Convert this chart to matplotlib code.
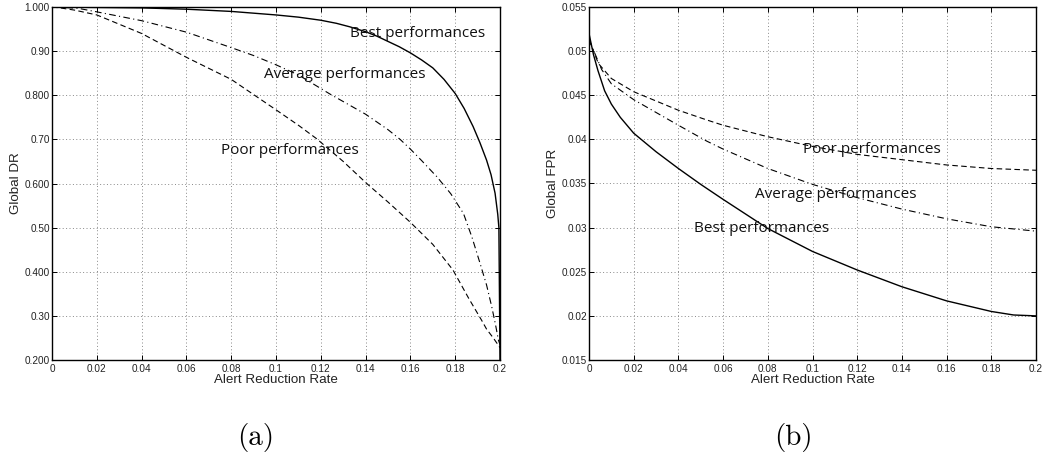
import matplotlib
matplotlib.use("Agg")
import matplotlib.pyplot as plt

# ---- data ----
# (a) Global DR vs alert reduction rate
dr_best_x = [0, 0.02, 0.04, 0.06, 0.08, 0.10, 0.11, 0.12, 0.127, 0.133, 0.14, 0.145, 0.15, 0.155, 0.16, 0.165,
             0.170, 0.175, 0.180, 0.184, 0.188, 0.191, 0.194, 0.196, 0.1978, 0.199, 0.1995, 0.2]
dr_best_y = [1.0, 0.999, 0.998, 0.995, 0.990, 0.982, 0.977, 0.970, 0.963, 0.955, 0.944, 0.934, 0.922, 0.910,
             0.896, 0.880, 0.862, 0.836, 0.804, 0.770, 0.729, 0.693, 0.653, 0.620, 0.578, 0.53, 0.50, 0.2]
dr_avg_x = [0, 0.005, 0.0117, 0.02, 0.04, 0.06, 0.08, 0.09, 0.1, 0.11, 0.124, 0.14, 0.15, 0.1554, 0.16, 0.165,
            0.17, 0.1718, 0.178, 0.1837, 0.1875, 0.1911, 0.1940, 0.1963, 0.198, 0.1993, 0.2]
dr_avg_y = [1.0, 0.999, 0.997, 0.989, 0.969, 0.943, 0.908, 0.890, 0.869, 0.846, 0.803, 0.757, 0.722, 0.700,
            0.678, 0.652, 0.625, 0.6155, 0.577, 0.532, 0.478, 0.419, 0.370, 0.321, 0.28, 0.245, 0.235]
dr_poor_x = [0, 0.0036, 0.01, 0.02, 0.04, 0.06, 0.08, 0.1, 0.11, 0.118, 0.13, 0.1405, 0.15, 0.16,
             0.17, 0.179, 0.186, 0.1918, 0.194, 0.197, 0.2]
dr_poor_y = [1.0, 0.998, 0.993, 0.982, 0.940, 0.886, 0.836, 0.767, 0.732, 0.702, 0.650, 0.600, 0.558, 0.512,
             0.462, 0.404, 0.340, 0.290, 0.270, 0.250, 0.228]

# (b) Global FPR vs alert reduction rate
fpr_best_x = [0, 0.002, 0.004, 0.007, 0.01, 0.014, 0.02, 0.03, 0.04, 0.05, 0.06, 0.08, 0.1, 0.12,
              0.14, 0.16, 0.18, 0.19, 0.2]
fpr_best_y = [0.0520, 0.0496, 0.0478, 0.0455, 0.0440, 0.0425, 0.0407, 0.0386, 0.0367, 0.0349, 0.0332,
              0.0299, 0.0273, 0.0252, 0.0233, 0.0217, 0.0205, 0.0201, 0.0200]
fpr_avg_x = [0, 0.0057, 0.01, 0.02, 0.04, 0.0527, 0.06, 0.08, 0.1, 0.12, 0.14, 0.16, 0.18, 0.2]
fpr_avg_y = [0.0513, 0.0479, 0.0463, 0.0445, 0.0416, 0.0398, 0.0389, 0.0367, 0.0349, 0.0334, 0.0321,
             0.0310, 0.0301, 0.0296]
fpr_poor_x = [0, 0.0042, 0.01, 0.02, 0.04, 0.0527, 0.06, 0.08, 0.1, 0.12, 0.14, 0.16, 0.18, 0.2]
fpr_poor_y = [0.0513, 0.0486, 0.0469, 0.0454, 0.0433, 0.0422, 0.0416, 0.0403, 0.0392, 0.0383, 0.0377,
              0.0371, 0.0367, 0.0365]

x_ticks = [0, 0.02, 0.04, 0.06, 0.08, 0.1, 0.12, 0.14, 0.16, 0.18, 0.2]
x_labels = ["0", "0.02", "0.04", "0.06", "0.08", "0.1", "0.12", "0.14", "0.16", "0.18", "0.2"]
dr_ticks = [0.2, 0.3, 0.4, 0.5, 0.6, 0.7, 0.8, 0.9, 1.0]
dr_labels = ["0.200", "0.30", "0.400", "0.50", "0.600", "0.70", "0.800", "0.90", "1.000"]
fpr_ticks = [0.015, 0.02, 0.025, 0.03, 0.035, 0.04, 0.045, 0.05, 0.055]
fpr_labels = ["0.015", "0.02", "0.025", "0.03", "0.035", "0.04", "0.045", "0.05", "0.055"]

tick_font = "Liberation Sans"
note_font = "Open Sans"
note_size = 11

fig = plt.figure(figsize=(10.45, 4.57), dpi=100)
ax1 = fig.add_axes([52 / 1045, 97 / 457, 448 / 1045, 353 / 457])
ax2 = fig.add_axes([589 / 1045, 97 / 457, 447 / 1045, 353 / 457])


def style_axes(ax, yticks, ylabels, ylabel):
    ax.set_xlim(0, 0.2)
    ax.set_ylim(yticks[0], yticks[-1])
    ax.set_xticks(x_ticks)
    ax.set_xticklabels(x_labels, fontfamily=tick_font, fontsize=7.2, color="#222222")
    ax.set_yticks(yticks)
    ax.set_yticklabels(ylabels, fontfamily=tick_font, fontsize=7.2, color="#222222")
    ax.tick_params(direction="in", top=True, right=True, length=3.5, width=0.7)
    ax.tick_params(axis="x", pad=3)
    ax.tick_params(axis="y", pad=1.5)
    ax.grid(True, linestyle=(0, (1, 2.5)), color="#888888", linewidth=0.7)
    for sp in ax.spines.values():
        sp.set_linewidth(1.0)
    ax.set_xlabel("Alert Reduction Rate", fontfamily=tick_font, fontsize=9.6, labelpad=0, color="#222222")
    ax.set_ylabel(ylabel, fontfamily=tick_font, fontsize=9.6, labelpad=2, color="#222222")


style_axes(ax1, dr_ticks, dr_labels, "Global DR")
style_axes(ax2, fpr_ticks, fpr_labels, "Global FPR")

# (a)
ax1.plot(dr_best_x, dr_best_y, color="black", linewidth=1.0, linestyle="-")
ax1.plot(dr_avg_x, dr_avg_y, color="black", linewidth=0.8, linestyle=(0, (6, 3, 1, 3)))
ax1.plot(dr_poor_x, dr_poor_y, color="black", linewidth=0.8, linestyle=(0, (5, 3)))
ax1.text(0.133, 0.941, "Best performances", fontfamily=note_font, fontsize=note_size, va="center", color="#111111")
ax1.text(0.0947, 0.846, "Average performances", fontfamily=note_font, fontsize=note_size, va="center", color="#111111")
ax1.text(0.0754, 0.675, "Poor performances", fontfamily=note_font, fontsize=note_size, va="center", color="#111111")

# (b)
ax2.plot(fpr_best_x, fpr_best_y, color="black", linewidth=1.0, linestyle="-")
ax2.plot(fpr_avg_x, fpr_avg_y, color="black", linewidth=0.8, linestyle=(0, (6, 3, 1, 3)))
ax2.plot(fpr_poor_x, fpr_poor_y, color="black", linewidth=0.8, linestyle=(0, (5, 3)))
ax2.text(0.0956, 0.0388, "Poor performances", fontfamily=note_font, fontsize=note_size, va="center", color="#111111")
ax2.text(0.0741, 0.0338, "Average performances", fontfamily=note_font, fontsize=note_size, va="center", color="#111111")
ax2.text(0.0471, 0.0299, "Best performances", fontfamily=note_font, fontsize=note_size, va="center", color="#111111")

fig.text(256 / 1045, 1 - 438 / 457, "(a)", fontfamily="cmr10", fontsize=21, ha="center", va="center")
fig.text(793 / 1045, 1 - 438 / 457, "(b)", fontfamily="cmr10", fontsize=21, ha="center", va="center")

fig.savefig("out.png", dpi=100)
